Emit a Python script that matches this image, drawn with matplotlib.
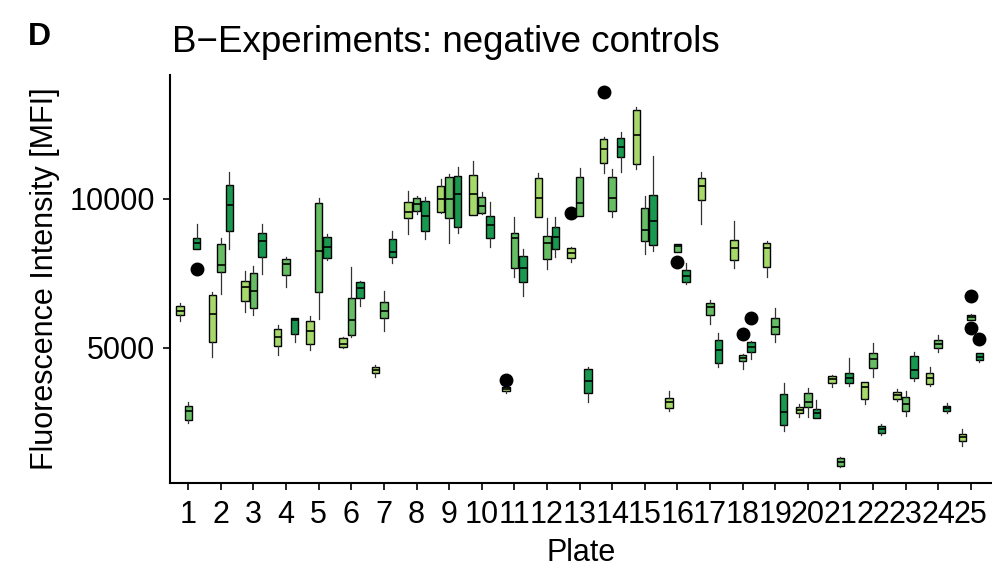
import matplotlib
matplotlib.use("Agg")
import matplotlib.pyplot as plt

plt.rcParams["font.family"] = ["Liberation Sans", "DejaVu Sans"]

plates = list(range(1, 26))
groups = ["light", "medium", "dark"]
group_colors = {"light": "#a6d96a", "medium": "#66bd63", "dark": "#1a9850"}

# (lower whisker, q1, median, q3, upper whisker) per plate
light_stats = [
    (5906, 6097, 6241, 6409, 6490), (4697, 5181, 6120, 6758, 6879),
    (6208, 6577, 7027, 7248, 7574), (4755, 5057, 5369, 5617, 5761),
    (4922, 5114, 5570, 5896, 6074), (4980, 5033, 5114, 5315, 5369),
    (4026, 4141, 4251, 4362, 4419), (8805, 9352, 9564, 9889, 10258),
    (9530, 9564, 9990, 10426, 10651), (9443, 9463, 10148, 10795, 11265),
    (3469, 3547, 3614, 3671, 3714), (9376, 9396, 10013, 10685, 10852),
    (7886, 8000, 8168, 8335, 8389), (10852, 11188, 11658, 11993, 12061),
    (10987, 11154, 12128, 12967, 13088), (2875, 2986, 3167, 3301, 3557),
    (9151, 9956, 10426, 10685, 10906), (7664, 7933, 8356, 8604, 9262),
    (7382, 7698, 8335, 8503, 8580), (2684, 2798, 2909, 3020, 3100),
    (3691, 3805, 3939, 4060, 4083), (3100, 3278, 3691, 3859, 3859),
    (3211, 3278, 3412, 3523, 3604), (3724, 3771, 3993, 4141, 4362),
    (1711, 1879, 1993, 2103, 2271),
]
medium_stats = [
    (2462, 2573, 2875, 3043, 3167), (6802, 7550, 7775, 8470, 8671),
    (6097, 6322, 6913, 7496, 7751), (7047, 7439, 7809, 7966, 8054),
    (5953, 6859, 8245, 9846, 10034), (5349, 5426, 5929, 6657, 7718),
    (5570, 6006, 6231, 6523, 6902), (9476, 9597, 9812, 10013, 10091),
    (8503, 9342, 9980, 10718, 10829), (9487, 9530, 9765, 10047, 10235),
    (7362, 7684, 8671, 8839, 9396), (7631, 7966, 8503, 8748, 9362),
    (9430, 9430, 9846, 10738, 11020), (9396, 9597, 10013, 10738, 10987),
    (8134, 8590, 8960, 9688, 10091), (8221, 8221, 8423, 8470, 8470),
    (5795, 6087, 6376, 6510, 6600), (4295, 4553, 4664, 4745, 4778),
    (5201, 5459, 5684, 5986, 6322), (2664, 3020, 3188, 3469, 3637),
    (1010, 1040, 1164, 1308, 1330), (4026, 4308, 4620, 4812, 5147),
    (2717, 2885, 3100, 3355, 3546), (4865, 4980, 5114, 5258, 5426),
    (5929, 5929, 6020, 6097, 6130),
]
dark_stats = [
    (8302, 8312, 8523, 8671, 9141), (8322, 8926, 9789, 10450, 10886),
    (7473, 8054, 8580, 8839, 9141), (5201, 5449, 5929, 5986, 6006),
    (7943, 8020, 8379, 8705, 8815), (6399, 6657, 7013, 7194, 7248),
    (7832, 8034, 8221, 8648, 8916), (8637, 8916, 9419, 9933, 10047),
    (8859, 9040, 10158, 10762, 11054), (8389, 8671, 9117, 9409, 9879),
    (6735, 7214, 7664, 8087, 8302), (8054, 8302, 8725, 9040, 9396),
    (3187, 3469, 3882, 4275, 4342), (10906, 11400, 11745, 12047, 12228),
    (8245, 8446, 9262, 10114, 11433), (7137, 7214, 7416, 7607, 7832),
    (4342, 4476, 4922, 5258, 5483), (4631, 4845, 5033, 5201, 5224),
    (2214, 2406, 2831, 3446, 3825), (2630, 2630, 2808, 2952, 3245),
    (3724, 3805, 3993, 4141, 4644), (2070, 2127, 2261, 2382, 2439),
    (3892, 3973, 4251, 4721, 4865), (2798, 2885, 2966, 3043, 3134),
    (4509, 4587, 4698, 4812, 4832),
]
# (plate, group, value)
outliers = [
    (1, "dark", 7641), (11, "light", 3916), (13, "light", 9510),
    (14, "light", 13571), (16, "medium", 7866), (18, "medium", 5449),
    (18, "dark", 5986), (25, "medium", 6735), (25, "medium", 5651),
    (25, "dark", 5281),
]

all_stats = {"light": light_stats, "medium": medium_stats, "dark": dark_stats}
offsets = {"light": -0.26, "medium": 0.0, "dark": 0.26}

fig = plt.figure(figsize=(9.92, 5.71), dpi=100)
ax = fig.add_axes([170 / 992, 88 / 571, 822 / 992, 408 / 571])

for g in groups:
    bstats = []
    for plate, (lo, q1, med, q3, hi) in zip(plates, all_stats[g]):
        fl = [v for p, gg, v in outliers if p == plate and gg == g]
        bstats.append(dict(whislo=lo, q1=q1, med=med, q3=q3, whishi=hi, fliers=fl))
    ax.bxp(
        bstats,
        positions=[p + offsets[g] for p in plates],
        widths=0.23,
        patch_artist=True,
        showcaps=False,
        boxprops=dict(facecolor=group_colors[g], edgecolor="black", linewidth=1.0),
        medianprops=dict(color="black", linewidth=1.2),
        whiskerprops=dict(color="#333333", linewidth=0.9),
        flierprops=dict(marker="o", markerfacecolor="black", markeredgecolor="black",
                        markersize=9),
        manage_ticks=False,
    )

ax.set_xlim(0.44, 25.65)
ax.set_ylim(459, 14150)
ax.set_xticks(plates)
ax.set_xticklabels([str(p) for p in plates])
ax.set_yticks([5000, 10000])
ax.set_yticklabels(["5000", "10000"])

for side in ("top", "right"):
    ax.spines[side].set_visible(False)
for side in ("left", "bottom"):
    ax.spines[side].set_linewidth(1.5)
ax.tick_params(axis="both", length=5, width=1.2, labelsize=22, colors="black")
ax.tick_params(axis="x", pad=7)
ax.tick_params(axis="y", pad=6)

ax.set_xlabel("Plate", fontsize=22, labelpad=6)
ax.set_ylabel("Fluorescence Intensity [MFI]", fontsize=22, labelpad=7)

fig.text(172 / 992, 1 - 52 / 571, "B\u2212Experiments: negative controls",
         fontsize=26.5, ha="left", va="baseline")
fig.text(28 / 992, 1 - 45 / 571, "D", fontsize=23, fontweight="bold",
         ha="left", va="baseline")

fig.savefig("out.png", dpi=100)
